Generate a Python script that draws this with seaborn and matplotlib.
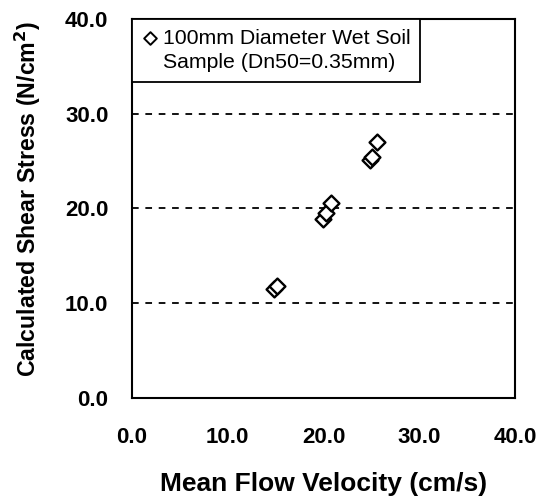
import pandas as pd
import matplotlib
matplotlib.use('Agg')
import matplotlib.pyplot as plt
from matplotlib.lines import Line2D
import seaborn as sns

# mean flow velocity (cm/s) and calculated shear stress (N/cm2)
velocity = [14.8, 15.2, 19.9, 20.3, 20.8, 24.9, 25.1, 25.6]
shear_stress = [11.5, 11.8, 18.9, 19.5, 20.6, 25.1, 25.4, 27.0]
label_lines = ['100mm Diameter Wet Soil', 'Sample (Dn50=0.35mm)']
ticks = [0, 10, 20, 30, 40]


def main():
    sns.set_style('white')
    plt.rcParams['font.family'] = ['Liberation Sans', 'DejaVu Sans']
    plt.rcParams.update({'text.color': 'black', 'axes.labelcolor': 'black',
                         'xtick.color': 'black', 'ytick.color': 'black'})

    df = pd.DataFrame({'velocity': velocity, 'stress': shear_stress})

    fig = plt.figure(figsize=(5.4, 4.99), dpi=100)
    ax = fig.add_axes([0.244, 0.2024, 0.71, 0.7596])

    for yv in ticks[1:-1]:
        ax.axhline(yv, color='black', lw=1.3, ls=(0, (3.7, 3.7)), zorder=0)

    sns.scatterplot(data=df, x='velocity', y='stress', color='white',
                    marker='D', s=65, edgecolor='black', linewidth=1.7,
                    ax=ax, zorder=3, label=label_lines[0])

    ax.set_xlim(0, 40)
    ax.set_ylim(0, 40)
    ax.set_xticks(ticks)
    ax.set_yticks(ticks)
    ax.set_xticklabels([f'{t:.1f}' for t in ticks], fontsize=16, fontweight='bold')
    ax.set_yticklabels([f'{t:.1f}' for t in ticks], fontsize=16, fontweight='bold')
    ax.tick_params(direction='out', length=4.8, width=1.3, colors='black')
    ax.tick_params(axis='x', pad=16)
    ax.tick_params(axis='y', pad=12)

    for sp in ax.spines.values():
        sp.set_color('black')
        sp.set_linewidth(1.5)

    ax.set_xlabel('Mean Flow Velocity (cm/s)', fontsize=19, fontweight='bold',
                  va='center')
    ax.xaxis.set_label_coords(0.5, (398 - 484) / 379)
    ax.set_ylabel('Calculated Shear Stress (N/cm$^\\mathbf{2}$)', fontsize=16.7,
                  fontweight='bold', va='center')
    ax.yaxis.set_label_coords((28 - 131.7) / 383.4, (398 - 199) / 379)

    handles, labels = ax.get_legend_handles_labels()
    blank = Line2D([], [], linestyle='none', marker=None)
    leg = ax.legend(handles=[handles[0], blank], labels=label_lines,
                    loc='upper left', borderaxespad=0, fancybox=False,
                    edgecolor='black', framealpha=1, fontsize=15.3,
                    handletextpad=0.15, handlelength=0.85, borderpad=0.45,
                    labelspacing=0.28, markerscale=0.8)
    leg.get_frame().set_linewidth(1.3)
    leg.legend_handles[0].set_linewidth(1.4)

    fig.savefig('out.png', dpi=100)
    plt.close(fig)


if __name__ == '__main__':
    main()
